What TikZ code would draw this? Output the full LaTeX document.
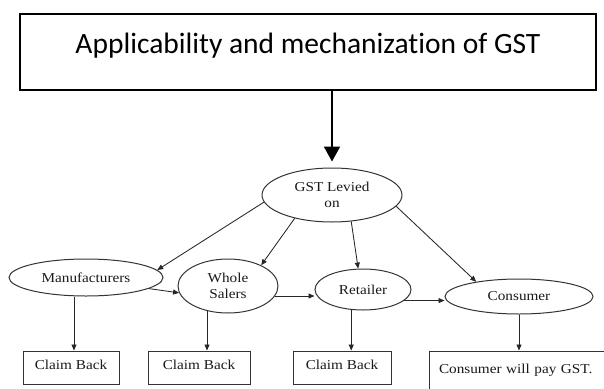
\documentclass[tikz,border=0pt]{standalone}
\usepackage{fontspec}
\setmainfont{Liberation Serif}
\newfontfamily\calib[RawFeature=-liga]{Carlito}
\newfontfamily\tnr[FakeStretch=1.12]{Liberation Serif}
\usetikzlibrary{shapes.geometric,arrows.meta,calc}
\begin{document}
\begin{tikzpicture}[x=1pt,y=-1pt,
  ell/.style={ellipse, draw=black!80, line width=1pt, inner sep=0pt,
    font=\tnr\fontsize{13.6}{15.5}\selectfont, text=black!90, align=center},
  box/.style={rectangle, draw=black!80, line width=1pt, inner sep=0pt,
    font=\tnr\fontsize{13.6}{15.5}\selectfont, text=black!90,
    text height=9.5pt, text depth=6.5pt},
  conn/.style={draw=black!85, line width=0.85pt, -{Triangle[length=6pt,width=5pt]}},
  bigarrow/.style={draw=black, line width=2pt, -{Triangle[length=15pt,width=16pt]}}]
\useasboundingbox (0,0) rectangle (604,388);
\clip (0,0) rectangle (604,388);

\node[draw, line width=1.6pt, minimum width=576pt, minimum height=76pt, inner sep=0pt,
  text height=39pt, text depth=37pt, font=\calib\fontsize{29.5}{35}\selectfont]
  (top) at (308,52) {Applicability and mechanization of GST};

\node[ell, minimum width=140pt, minimum height=54pt] (gst) at (332,195) {GST Levied\\on};
\node[ell, minimum width=154pt, minimum height=37pt] (man) at (86,277.5) {Manufacturers};
\node[ell, minimum width=100pt, minimum height=54pt] (ws) at (228,286) {Whole\\[0.5pt]Salers};
\node[ell, minimum width=96pt, minimum height=41pt] (ret) at (363,289.5) {Retailer};
\node[ell, minimum width=148pt, minimum height=35pt] (con) at (519,296.5) {Consumer};

\node[box, minimum width=96pt, minimum height=33pt] (cb1) at (71,367.5) {Claim Back};
\node[box, minimum width=102pt, minimum height=33pt] (cb2) at (199,367.5) {Claim Back};
\node[box, minimum width=98pt, minimum height=33pt] (cb3) at (342,367.5) {Claim Back};
\node[box, minimum width=180pt, minimum height=44pt, text height=9.5pt, text depth=9.5pt,
  text width=160pt, align=left] (cbox) at (519,373) {Consumer will pay GST.};

\draw[bigarrow, shorten >=6pt] (gst.north |- top.south) -- (gst.north);

\draw[conn] (gst.186) -- (man.6);
\draw[conn] (gst.212) -- (ws.32);
\draw[conn] (gst.306) -- (ret.103);
\draw[conn] (gst.350) -- (con.161);

\draw[conn] (man.350) -- (ws.188);
\draw[conn] (ws.348) -- (ws.348 -| ret.west);
\draw[conn] (ret.345) -- (ret.345 -| con.west);

\coordinate (m1) at ($(cb1.north)+(3,0)$);
\draw[conn] (m1 |- man.south) -- (m1);
\draw[conn] (ws.230) -- (ws.230 |- cb2.north);
\draw[conn] (ret.240) -- (ret.240 |- cb3.north);
\draw[conn] (con.south) -- (cbox.north -| con.south);
\end{tikzpicture}
\end{document}
